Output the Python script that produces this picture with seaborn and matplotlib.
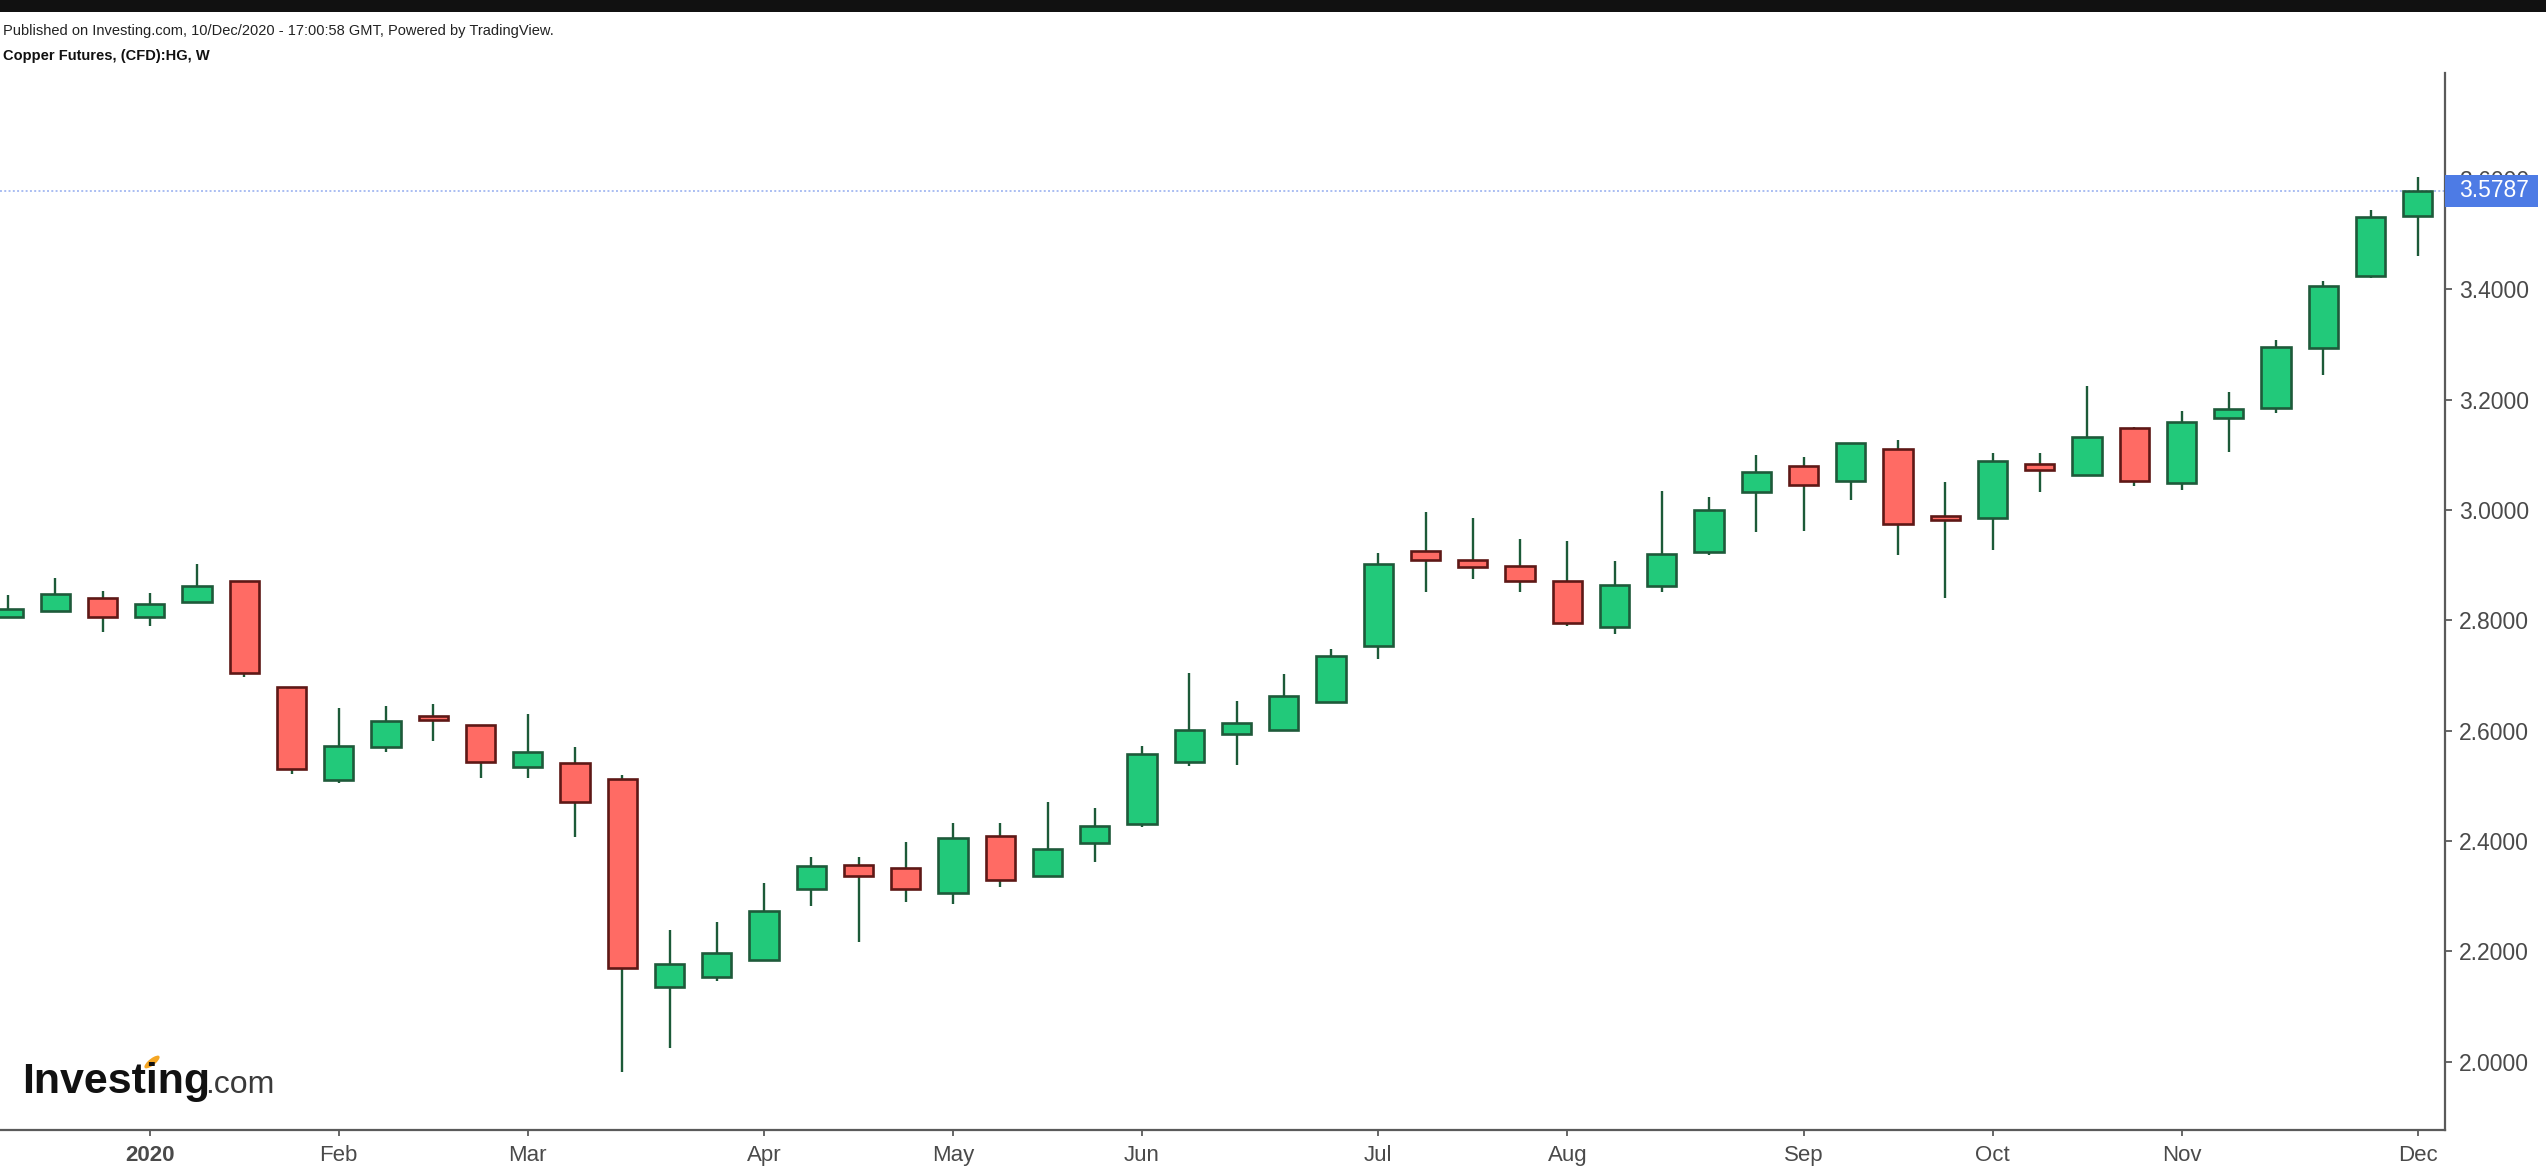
import numpy as np
import pandas as pd
import matplotlib
matplotlib.use("Agg")
import matplotlib.pyplot as plt
import seaborn as sns
from matplotlib.patches import Rectangle, Ellipse
from matplotlib.transforms import blended_transform_factory

# ---------------- data (weekly OHLC, Copper Futures) ----------------
first_week = "2019-12-16"
opens = [2.806, 2.817, 2.840, 2.806, 2.833, 2.872, 2.679, 2.511, 2.571, 2.626,
         2.611, 2.534, 2.542, 2.512, 2.136, 2.154, 2.185, 2.314, 2.356, 2.352,
         2.306, 2.409, 2.337, 2.396, 2.431, 2.544, 2.594, 2.602, 2.652, 2.754,
         2.925, 2.910, 2.898, 2.872, 2.788, 2.863, 2.924, 3.033, 3.080, 3.053,
         3.110, 2.989, 2.985, 3.084, 3.064, 3.149, 3.049, 3.166, 3.185, 3.294,
         3.423, 3.533]
highs = [2.846, 2.876, 2.853, 2.849, 2.902, 2.872, 2.679, 2.641, 2.645, 2.649,
         2.611, 2.631, 2.570, 2.520, 2.239, 2.254, 2.324, 2.372, 2.372, 2.399,
         2.433, 2.433, 2.471, 2.460, 2.573, 2.705, 2.654, 2.703, 2.748, 2.922,
         2.997, 2.986, 2.948, 2.944, 2.907, 3.035, 3.024, 3.099, 3.096, 3.121,
         3.126, 3.051, 3.103, 3.103, 3.224, 3.150, 3.179, 3.213, 3.308, 3.414,
         3.543, 3.603]
lows = [2.804, 2.815, 2.778, 2.790, 2.832, 2.698, 2.521, 2.505, 2.562, 2.581,
        2.514, 2.514, 2.407, 1.981, 2.026, 2.146, 2.184, 2.282, 2.218, 2.289,
        2.286, 2.317, 2.336, 2.362, 2.426, 2.536, 2.537, 2.600, 2.650, 2.730,
        2.851, 2.874, 2.851, 2.790, 2.775, 2.851, 2.919, 2.960, 2.961, 3.018,
        2.919, 2.840, 2.927, 3.033, 3.063, 3.044, 3.037, 3.105, 3.176, 3.244,
        3.420, 3.460]
closes = [2.821, 2.848, 2.806, 2.830, 2.863, 2.704, 2.530, 2.573, 2.618, 2.620,
          2.544, 2.561, 2.470, 2.171, 2.178, 2.197, 2.273, 2.355, 2.337, 2.314,
          2.406, 2.329, 2.386, 2.428, 2.557, 2.602, 2.614, 2.663, 2.736, 2.902,
          2.909, 2.897, 2.871, 2.795, 2.864, 2.921, 3.000, 3.068, 3.045, 3.121,
          2.974, 2.982, 3.088, 3.072, 3.133, 3.052, 3.159, 3.182, 3.296, 3.405,
          3.530, 3.5787]
last_price = 3.5787
month_labels = ["2020", "Feb", "Mar", "Apr", "May", "Jun", "Jul", "Aug",
                "Sep", "Oct", "Nov", "Dec"]
y_ticks = [2.0, 2.2, 2.4, 2.6, 2.8, 3.0, 3.2, 3.4, 3.6]
header_text = "Published on Investing.com, 10/Dec/2020 - 17:00:58 GMT, Powered by TradingView."
title_text = "Copper Futures, (CFD):HG, W"

# ---------------- style ----------------
sns.set_theme(style="ticks")
plt.rcParams['font.family'] = ['Liberation Sans', 'DejaVu Sans']

GREEN = "#22C97A"
GREEN_EDGE = "#1E5A3A"
RED = "#FF6B64"
RED_EDGE = "#5E1816"
WICK = "#1C5A38"
AXIS = "#5a5a5a"
LABEL = "#4a4a4a"

W, H = 2546, 1168
fig = plt.figure(figsize=(W / 100, H / 100), dpi=100)
fig.patch.set_facecolor("white")

ax_top_px, ax_bot_px, ax_right_px = 73, 1130, 2445
ax = fig.add_axes([0, (H - ax_bot_px) / H, ax_right_px / W, (ax_bot_px - ax_top_px) / H])
ax.set_facecolor("white")

df = pd.DataFrame({
    "date": pd.date_range(first_week, periods=len(opens), freq="W-MON"),
    "open": opens, "high": highs, "low": lows, "close": closes,
})
df["idx"] = np.arange(len(df))
df["up"] = df["close"] >= df["open"]
df["bottom"] = df[["open", "close"]].min(axis=1)
df["height"] = (df["close"] - df["open"]).abs().clip(lower=0.004)

# wicks
ax.vlines(df["idx"], df["low"], df["high"], color=WICK, lw=1.7, zorder=2)
# bodies
up = df[df["up"]]
dn = df[~df["up"]]
ax.bar(up["idx"], up["height"], bottom=up["bottom"], width=0.62,
       color=GREEN, edgecolor=GREEN_EDGE, linewidth=1.9, zorder=3)
ax.bar(dn["idx"], dn["height"], bottom=dn["bottom"], width=0.62,
       color=RED, edgecolor=RED_EDGE, linewidth=1.9, zorder=3)

# last price dotted line
ax.axhline(last_price, color="#a9bdf2", lw=1.4, ls=(0, (1, 1.2)), zorder=1)

# limits
ax.set_xlim(-0.17, 51.575)
ax.set_ylim(1.8766, 3.7916)

# x ticks at first weekly bar of each month in 2020
d20 = df[df["date"].dt.year == 2020]
first_idx = d20.groupby(d20["date"].dt.month)["idx"].min().values
ax.set_xticks(first_idx)
ax.set_xticklabels(month_labels[:len(first_idx)])
for lab in ax.get_xticklabels():
    if lab.get_text() == "2020":
        lab.set_fontweight("bold")

# y ticks on the right
ax.yaxis.tick_right()
ax.set_yticks(y_ticks)
ax.set_yticklabels([f"{v:.4f}" for v in y_ticks])

ax.tick_params(axis="y", which="both", right=True, left=False, direction="out",
               length=5, width=1.3, color=AXIS, labelsize=16.5, labelcolor=LABEL, pad=5)
ax.tick_params(axis="x", which="both", bottom=True, top=False, direction="out",
               length=4.5, width=1.3, color=AXIS, labelsize=16, labelcolor=LABEL, pad=6)

for s in ["left", "top"]:
    ax.spines[s].set_visible(False)
for s in ["right", "bottom"]:
    ax.spines[s].set_visible(True)
    ax.spines[s].set_color(AXIS)
    ax.spines[s].set_linewidth(1.6)
ax.grid(False)

# last price label box on the axis (covers most of the 3.6000 label, as in the original)
trans = blended_transform_factory(ax.transAxes, ax.transData)
box_w = 93 / ax_right_px
box_h = 32 / 552
ax.add_patch(Rectangle((1.0, last_price - box_h / 2), box_w, box_h, transform=trans,
                       facecolor="#4D7BE5", edgecolor="none", clip_on=False, zorder=10))
ax.text(1.0 + 14 / ax_right_px, last_price, f"{last_price:.4f}", transform=trans,
        ha="left", va="center", color="white", fontsize=16.5, zorder=11, clip_on=False)

# header
fig.patches.append(Rectangle((0, 1 - 12 / H), 1, 12 / H, transform=fig.transFigure,
                             facecolor="#111111", edgecolor="none"))
fig.text(3 / W, 1 - 35 / H, header_text, fontsize=10.5, color="#222222", va="baseline")
fig.text(3 / W, 1 - 60 / H, title_text, fontsize=10.5, fontweight="bold",
         color="#111111", va="baseline")

# Investing.com logo
fig.text(22 / W, (H - 1093) / H, "Investing", fontsize=31, fontweight="bold",
         color="#111111", va="baseline")
fig.text(205 / W, (H - 1093) / H, ".com", fontsize=23, color="#3a3a3a", va="baseline")
fig.patches.append(Ellipse((152 / W, (H - 1062) / H), 9 / W, 14 / H, angle=-25,
                           transform=fig.transFigure, facecolor="#F5A623", edgecolor="none"))

fig.savefig("out.png", dpi=100, facecolor="white")
